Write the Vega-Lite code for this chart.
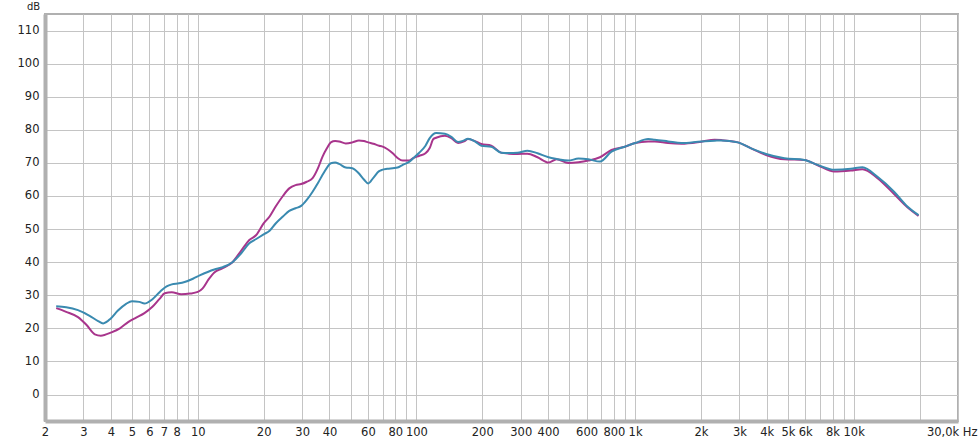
{
  "$schema": "https://vega.github.io/schema/vega-lite/v6.json",
  "width": 913,
  "height": 407,
  "autosize": "none",
  "padding": {"left": 45, "top": 14, "right": 22, "bottom": 19},
  "background": "white",
  "config": {
    "font": "DejaVu Sans",
    "view": {"stroke": "#b0b0b0", "strokeWidth": 2},
    "axis": {"labelFont": "DejaVu Sans", "labelFontSize": 11.5, "labelColor": "#222", "gridColor": "#c4c4c4", "gridWidth": 1, "ticks": false, "domainColor": "#b0b0b0", "domainWidth": 4}
  },
  "data": {"values": [
    {"f": 2.25, "db": 26.1, "s": "A"}, {"f": 2.5, "db": 25.0, "s": "A"}, {"f": 2.83, "db": 23.4, "s": "A"}, {"f": 3.1, "db": 21.0, "s": "A"}, {"f": 3.38, "db": 18.2, "s": "A"}, {"f": 3.6, "db": 17.8, "s": "A"}, {"f": 4.03, "db": 18.8, "s": "A"}, {"f": 4.4, "db": 20.0, "s": "A"}, {"f": 4.8, "db": 21.9, "s": "A"}, {"f": 5.2, "db": 23.2, "s": "A"}, {"f": 5.7, "db": 24.6, "s": "A"}, {"f": 6.2, "db": 26.5, "s": "A"}, {"f": 6.7, "db": 29.0, "s": "A"}, {"f": 7.06, "db": 30.6, "s": "A"}, {"f": 7.6, "db": 30.9, "s": "A"}, {"f": 8.4, "db": 30.3, "s": "A"}, {"f": 9.2, "db": 30.5, "s": "A"}, {"f": 10, "db": 31.0, "s": "A"}, {"f": 10.5, "db": 32.0, "s": "A"}, {"f": 11.2, "db": 34.8, "s": "A"}, {"f": 11.9, "db": 36.9, "s": "A"}, {"f": 13, "db": 38.2, "s": "A"}, {"f": 14.4, "db": 40.0, "s": "A"},
    {"f": 15.8, "db": 43.5, "s": "A"}, {"f": 17.2, "db": 46.7, "s": "A"}, {"f": 18.5, "db": 48.2, "s": "A"}, {"f": 20, "db": 51.7, "s": "A"}, {"f": 21.3, "db": 53.8, "s": "A"}, {"f": 22.7, "db": 56.8, "s": "A"}, {"f": 24.5, "db": 60.0, "s": "A"}, {"f": 26.2, "db": 62.3, "s": "A"}, {"f": 28, "db": 63.3, "s": "A"}, {"f": 29.7, "db": 63.6, "s": "A"}, {"f": 31.5, "db": 64.3, "s": "A"}, {"f": 33.5, "db": 65.4, "s": "A"}, {"f": 35.5, "db": 68.5, "s": "A"}, {"f": 37.2, "db": 71.9, "s": "A"}, {"f": 39, "db": 74.5, "s": "A"}, {"f": 40.6, "db": 76.2, "s": "A"}, {"f": 42.5, "db": 76.6, "s": "A"}, {"f": 44.3, "db": 76.5, "s": "A"}, {"f": 47.5, "db": 75.9, "s": "A"}, {"f": 50.9, "db": 76.2, "s": "A"}, {"f": 54.6, "db": 76.8, "s": "A"}, {"f": 57.5, "db": 76.6, "s": "A"}, {"f": 60.2, "db": 76.2, "s": "A"}, {"f": 63.5, "db": 75.8, "s": "A"}, {"f": 67.5, "db": 75.2, "s": "A"}, {"f": 69.6, "db": 75.0, "s": "A"}, {"f": 73.5, "db": 74.2, "s": "A"}, {"f": 77.9, "db": 72.9, "s": "A"}, {"f": 82, "db": 71.5, "s": "A"}, {"f": 86.6, "db": 70.7, "s": "A"}, {"f": 92.5, "db": 70.7, "s": "A"}, {"f": 97, "db": 71.5, "s": "A"}, {"f": 102.7, "db": 72.1, "s": "A"}, {"f": 110, "db": 72.9, "s": "A"}, {"f": 115, "db": 74.5, "s": "A"}, {"f": 119.5, "db": 77.2, "s": "A"}, {"f": 123, "db": 77.6, "s": "A"}, {"f": 135, "db": 78.2, "s": "A"}, {"f": 145, "db": 77.4, "s": "A"}, {"f": 155, "db": 76.0, "s": "A"}, {"f": 165, "db": 76.5, "s": "A"}, {"f": 172, "db": 77.2, "s": "A"}, {"f": 185, "db": 76.6, "s": "A"}, {"f": 198, "db": 75.7, "s": "A"}, {"f": 220, "db": 75.2, "s": "A"}, {"f": 244, "db": 73.1, "s": "A"}, {"f": 265, "db": 72.8, "s": "A"}, {"f": 290, "db": 72.7, "s": "A"}, {"f": 322, "db": 72.8, "s": "A"}, {"f": 358, "db": 71.7, "s": "A"}, {"f": 402, "db": 70.1, "s": "A"}, {"f": 438, "db": 71.1, "s": "A"}, {"f": 495, "db": 70.0, "s": "A"}, {"f": 551, "db": 70.2, "s": "A"}, {"f": 611, "db": 70.7, "s": "A"}, {"f": 691, "db": 71.7, "s": "A"}, {"f": 780, "db": 73.9, "s": "A"}, {"f": 899, "db": 74.9, "s": "A"}, {"f": 1000, "db": 76.0, "s": "A"}, {"f": 1148, "db": 76.5, "s": "A"}, {"f": 1230, "db": 76.5, "s": "A"}, {"f": 1416, "db": 76.0, "s": "A"}, {"f": 1629, "db": 75.8, "s": "A"}, {"f": 2009, "db": 76.4, "s": "A"}, {"f": 2312, "db": 77.0, "s": "A"}, {"f": 2478, "db": 76.9, "s": "A"}, {"f": 2952, "db": 76.2, "s": "A"}, {"f": 3396, "db": 74.4, "s": "A"}, {"f": 3974, "db": 72.4, "s": "A"}, {"f": 4820, "db": 71.1, "s": "A"}, {"f": 5946, "db": 70.9, "s": "A"}, {"f": 6840, "db": 69.3, "s": "A"}, {"f": 8150, "db": 67.4, "s": "A"}, {"f": 9706, "db": 67.7, "s": "A"}, {"f": 10970, "db": 68.1, "s": "A"}, {"f": 12850, "db": 65.4, "s": "A"}, {"f": 15300, "db": 60.6, "s": "A"}, {"f": 17600, "db": 56.6, "s": "A"}, {"f": 19800, "db": 54.0, "s": "A"},
    {"f": 2.25, "db": 26.7, "s": "B"}, {"f": 2.5, "db": 26.4, "s": "B"}, {"f": 2.83, "db": 25.5, "s": "B"}, {"f": 3.2, "db": 23.8, "s": "B"}, {"f": 3.5, "db": 22.2, "s": "B"}, {"f": 3.69, "db": 21.5, "s": "B"}, {"f": 4.0, "db": 23.0, "s": "B"}, {"f": 4.3, "db": 25.3, "s": "B"}, {"f": 4.7, "db": 27.4, "s": "B"}, {"f": 5.0, "db": 28.2, "s": "B"}, {"f": 5.4, "db": 28.0, "s": "B"}, {"f": 5.7, "db": 27.5, "s": "B"}, {"f": 6.2, "db": 28.8, "s": "B"}, {"f": 6.7, "db": 31.0, "s": "B"}, {"f": 7.2, "db": 32.7, "s": "B"}, {"f": 7.6, "db": 33.3, "s": "B"}, {"f": 8.2, "db": 33.6, "s": "B"}, {"f": 8.7, "db": 34.0, "s": "B"}, {"f": 9.5, "db": 35.0, "s": "B"}, {"f": 10.2, "db": 36.0, "s": "B"}, {"f": 11.9, "db": 37.8, "s": "B"}, {"f": 13, "db": 38.5, "s": "B"}, {"f": 14.4, "db": 40.0, "s": "B"},
    {"f": 15.8, "db": 42.7, "s": "B"}, {"f": 17.2, "db": 45.7, "s": "B"}, {"f": 18.5, "db": 47.0, "s": "B"}, {"f": 20, "db": 48.4, "s": "B"}, {"f": 21.3, "db": 49.5, "s": "B"}, {"f": 22.7, "db": 51.7, "s": "B"}, {"f": 24.5, "db": 53.8, "s": "B"}, {"f": 26.2, "db": 55.5, "s": "B"}, {"f": 28, "db": 56.3, "s": "B"}, {"f": 29.7, "db": 57.0, "s": "B"}, {"f": 31.5, "db": 58.8, "s": "B"}, {"f": 33.5, "db": 61.3, "s": "B"}, {"f": 35.5, "db": 64.0, "s": "B"}, {"f": 37.2, "db": 66.4, "s": "B"}, {"f": 39, "db": 68.6, "s": "B"}, {"f": 40.6, "db": 69.9, "s": "B"}, {"f": 42.5, "db": 70.1, "s": "B"}, {"f": 44.3, "db": 69.7, "s": "B"}, {"f": 47.5, "db": 68.6, "s": "B"}, {"f": 50.9, "db": 68.4, "s": "B"}, {"f": 54.6, "db": 66.8, "s": "B"}, {"f": 57.5, "db": 65.0, "s": "B"}, {"f": 60.2, "db": 63.8, "s": "B"}, {"f": 63.5, "db": 65.5, "s": "B"}, {"f": 67.5, "db": 67.5, "s": "B"}, {"f": 69.6, "db": 67.9, "s": "B"}, {"f": 73.5, "db": 68.2, "s": "B"}, {"f": 77.9, "db": 68.4, "s": "B"}, {"f": 82, "db": 68.6, "s": "B"}, {"f": 86.6, "db": 69.4, "s": "B"}, {"f": 92.5, "db": 70.3, "s": "B"}, {"f": 97, "db": 71.5, "s": "B"}, {"f": 102.7, "db": 73.0, "s": "B"}, {"f": 110, "db": 75.2, "s": "B"}, {"f": 115, "db": 77.5, "s": "B"}, {"f": 119.5, "db": 78.7, "s": "B"}, {"f": 123, "db": 79.0, "s": "B"}, {"f": 135, "db": 78.8, "s": "B"}, {"f": 145, "db": 77.8, "s": "B"}, {"f": 155, "db": 76.3, "s": "B"}, {"f": 165, "db": 76.8, "s": "B"}, {"f": 172, "db": 77.3, "s": "B"}, {"f": 185, "db": 76.5, "s": "B"}, {"f": 198, "db": 75.2, "s": "B"}, {"f": 220, "db": 74.9, "s": "B"}, {"f": 244, "db": 73.1, "s": "B"}, {"f": 265, "db": 73.0, "s": "B"}, {"f": 290, "db": 73.1, "s": "B"}, {"f": 322, "db": 73.7, "s": "B"}, {"f": 358, "db": 72.9, "s": "B"}, {"f": 402, "db": 71.7, "s": "B"}, {"f": 438, "db": 71.2, "s": "B"}, {"f": 495, "db": 70.7, "s": "B"}, {"f": 551, "db": 71.3, "s": "B"}, {"f": 611, "db": 71.1, "s": "B"}, {"f": 691, "db": 70.4, "s": "B"}, {"f": 780, "db": 73.4, "s": "B"}, {"f": 899, "db": 74.9, "s": "B"}, {"f": 1000, "db": 76.0, "s": "B"}, {"f": 1148, "db": 77.2, "s": "B"}, {"f": 1230, "db": 77.0, "s": "B"}, {"f": 1416, "db": 76.5, "s": "B"}, {"f": 1629, "db": 76.0, "s": "B"}, {"f": 2009, "db": 76.5, "s": "B"}, {"f": 2312, "db": 76.7, "s": "B"}, {"f": 2478, "db": 76.8, "s": "B"}, {"f": 2952, "db": 76.2, "s": "B"}, {"f": 3396, "db": 74.4, "s": "B"}, {"f": 3974, "db": 72.7, "s": "B"}, {"f": 4820, "db": 71.4, "s": "B"}, {"f": 5946, "db": 70.9, "s": "B"}, {"f": 6840, "db": 69.4, "s": "B"}, {"f": 8150, "db": 67.9, "s": "B"}, {"f": 9706, "db": 68.2, "s": "B"}, {"f": 10970, "db": 68.7, "s": "B"}, {"f": 12850, "db": 65.8, "s": "B"}, {"f": 15300, "db": 61.3, "s": "B"}, {"f": 17600, "db": 56.8, "s": "B"}, {"f": 19800, "db": 54.2, "s": "B"}
  ]},
  "mark": {"type": "line", "interpolate": "monotone", "strokeWidth": 2},
  "encoding": {
    "x": {
      "field": "f", "type": "quantitative",
      "scale": {"type": "log", "domain": [2, 30000], "nice": false},
      "axis": {
        "title": null,
        "values": [2,3,4,5,6,7,8,9,10,20,30,40,50,60,70,80,90,100,200,300,400,500,600,700,800,900,1000,2000,3000,4000,5000,6000,7000,8000,9000,10000,20000,30000],
        "labelExpr": "indexof([9,50,70,90,500,700,900,7000,9000,20000], datum.value) >= 0 ? '' : (datum.value == 30000 ? '30,0k Hz' : (datum.value >= 1000 ? (datum.value / 1000) + 'k' : datum.value + ''))",
        "labelAlign": {"condition": {"test": "datum.value == 30000", "value": "right"}, "value": "center"},
        "labelOffset": {"condition": {"test": "datum.value == 30000", "value": 19}, "value": 0},
        "labelPadding": 5,
        "labelFlush": false,
        "labelOverlap": false,
        "grid": true
      }
    },
    "y": {
      "field": "db", "type": "quantitative",
      "scale": {"domain": [-8, 115], "nice": false, "zero": false},
      "axis": {
        "title": "dB",
        "titleAngle": 0,
        "titleX": -12,
        "titleY": -4.5,
        "titleAlign": "center",
        "titleBaseline": "alphabetic",
        "titleFontSize": 10,
        "titleFontWeight": "normal",
        "titleFont": "DejaVu Sans",
        "titleColor": "#222",
        "values": [0,10,20,30,40,50,60,70,80,90,100,110],
        "labelPadding": 6,
        "grid": true
      }
    },
    "color": {
      "field": "s", "type": "nominal", "legend": null,
      "scale": {"domain": ["A", "B"], "range": ["#a8358c", "#3a8ab0"]}
    }
  }
}
